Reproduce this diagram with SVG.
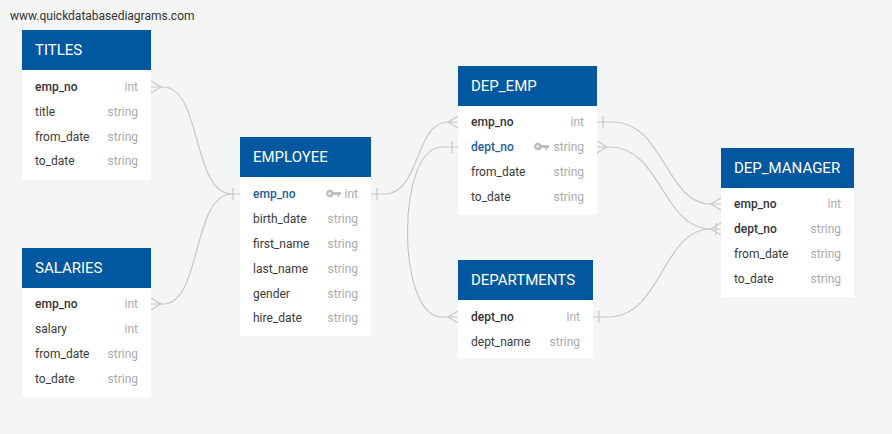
<svg xmlns="http://www.w3.org/2000/svg" width="892" height="434" viewBox="0 0 892 434">
<style>
.bg{fill:#f4f5f5}
.hd{fill:#0158a0}
.bd{fill:#ffffff}
.tt{font-family:Roboto,"Liberation Sans",sans-serif;font-size:15px;fill:#ffffff}
.f{font-family:Roboto,"Liberation Sans",sans-serif;font-size:12px;fill:#3a3a3a}
.fb{font-family:Roboto,"Liberation Sans",sans-serif;font-size:12px;fill:#333333;font-weight:500}
.pk{font-family:Roboto,"Liberation Sans",sans-serif;font-size:12px;fill:#1b5e9e;font-weight:500}
.ty{font-family:Roboto,"Liberation Sans",sans-serif;font-size:12px;fill:#ababab;text-anchor:end}
.wm{font-family:Roboto,"Liberation Sans",sans-serif;font-size:12px;fill:#333333}
.ln{fill:none;stroke:#c8c8c8;stroke-width:1.2}
.key{fill:#bdbdbd}
</style>
<defs>
<g id="keyicon">
<circle cx="0" cy="0" r="3.8" class="key"/>
<rect x="2" y="-1.4" width="9" height="2.8" class="key"/>
<rect x="7.5" y="0" width="1.8" height="3.3" class="key"/>
<circle cx="-0.5" cy="0" r="1.2" fill="#ffffff"/>
</g>
</defs>
<rect class="bg" x="0" y="0" width="892" height="434"/>
<text class="wm" x="10" y="20">www.quickdatabasediagrams.com</text>

<g id="connectors">
<path class="ln" d="M151,87 H163 C202,87 192,194 232,194 H240"/>
<path class="ln" d="M151,81 L161,87 L151,93"/>
<path class="ln" d="M233,188 V200"/>
<path class="ln" d="M151,304 H163 C202,304 192,194 232,194"/>
<path class="ln" d="M151,298 L161,304 L151,310"/>
<path class="ln" d="M371,194 H385 C420,194 415,122 448,122 H458"/>
<path class="ln" d="M377,188 V200"/>
<path class="ln" d="M458,116 L448,122 L458,128"/>
<path class="ln" d="M458,147 H442 C396,147 396,317 442,317 H458"/>
<path class="ln" d="M452,141 V153"/>
<path class="ln" d="M458,311 L448,317 L458,323"/>
<path class="ln" d="M597,122 H612 C665,122 665,204 711,204 H721"/>
<path class="ln" d="M603,116 V128"/>
<path class="ln" d="M721,198 L711,204 L721,210"/>
<path class="ln" d="M597,147 H609 C662,147 662,229 711,229 H721"/>
<path class="ln" d="M597,141 L607,147 L597,153"/>
<path class="ln" d="M593,317 H608 C662,317 662,229 711,229"/>
<path class="ln" d="M599,311 V323"/>
<path class="ln" d="M721,223 L711,229 L721,235"/>
<path class="ln" d="M716,223 V235"/>
</g>

<g id="titles">
<rect class="bd" x="22" y="70" width="129" height="110"/>
<rect class="hd" x="22" y="30" width="129" height="40"/>
<text class="tt" x="35" y="55">TITLES</text>
<text class="fb" x="35" y="91">emp_no</text><text class="ty" x="138" y="91">int</text>
<text class="f" x="35" y="116">title</text><text class="ty" x="138" y="116">string</text>
<text class="f" x="35" y="141">from_date</text><text class="ty" x="138" y="141">string</text>
<text class="f" x="35" y="165">to_date</text><text class="ty" x="138" y="165">string</text>
</g>

<g id="salaries">
<rect class="bd" x="22" y="288" width="129" height="109"/>
<rect class="hd" x="22" y="248" width="129" height="40"/>
<text class="tt" x="35" y="273">SALARIES</text>
<text class="fb" x="35" y="308">emp_no</text><text class="ty" x="138" y="308">int</text>
<text class="f" x="35" y="333">salary</text><text class="ty" x="138" y="333">int</text>
<text class="f" x="35" y="358">from_date</text><text class="ty" x="138" y="358">string</text>
<text class="f" x="35" y="383">to_date</text><text class="ty" x="138" y="383">string</text>
</g>

<g id="employee">
<rect class="bd" x="240" y="177" width="131" height="159"/>
<rect class="hd" x="240" y="137" width="131" height="40"/>
<text class="tt" x="253" y="162">EMPLOYEE</text>
<text class="pk" x="253" y="198">emp_no</text><use href="#keyicon" x="330" y="193.5"/><text class="ty" x="358" y="198">int</text>
<text class="f" x="253" y="223">birth_date</text><text class="ty" x="358" y="223">string</text>
<text class="f" x="253" y="248">first_name</text><text class="ty" x="358" y="248">string</text>
<text class="f" x="253" y="273">last_name</text><text class="ty" x="358" y="273">string</text>
<text class="f" x="253" y="298">gender</text><text class="ty" x="358" y="298">string</text>
<text class="f" x="253" y="322">hire_date</text><text class="ty" x="358" y="322">string</text>
</g>

<g id="dep_emp">
<rect class="bd" x="458" y="106" width="139" height="109"/>
<rect class="hd" x="458" y="66" width="139" height="40"/>
<text class="tt" x="471" y="91">DEP_EMP</text>
<text class="fb" x="471" y="126">emp_no</text><text class="ty" x="584" y="126">int</text>
<text class="pk" x="471" y="151">dept_no</text><use href="#keyicon" x="538" y="146.5"/><text class="ty" x="584" y="151">string</text>
<text class="f" x="471" y="176">from_date</text><text class="ty" x="584" y="176">string</text>
<text class="f" x="471" y="201">to_date</text><text class="ty" x="584" y="201">string</text>
</g>

<g id="departments">
<rect class="bd" x="458" y="300" width="135" height="58"/>
<rect class="hd" x="458" y="260" width="135" height="40"/>
<text class="tt" x="471" y="285">DEPARTMENTS</text>
<text class="fb" x="471" y="321">dept_no</text><text class="ty" x="580" y="321">int</text>
<text class="f" x="471" y="346">dept_name</text><text class="ty" x="580" y="346">string</text>
</g>

<g id="dep_manager">
<rect class="bd" x="721" y="188" width="133" height="109"/>
<rect class="hd" x="721" y="148" width="133" height="40"/>
<text class="tt" x="734" y="173">DEP_MANAGER</text>
<text class="fb" x="734" y="208">emp_no</text><text class="ty" x="841" y="208">int</text>
<text class="fb" x="734" y="233">dept_no</text><text class="ty" x="841" y="233">string</text>
<text class="f" x="734" y="258">from_date</text><text class="ty" x="841" y="258">string</text>
<text class="f" x="734" y="283">to_date</text><text class="ty" x="841" y="283">string</text>
</g>
</svg>
